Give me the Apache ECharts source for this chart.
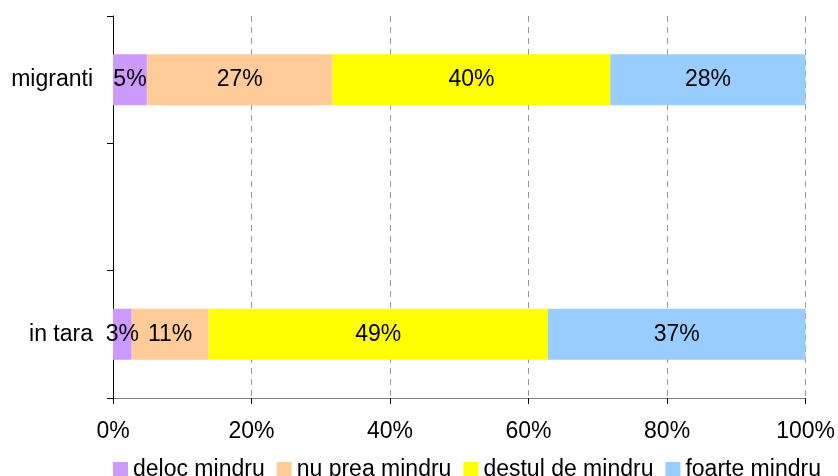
<!DOCTYPE html>
<html>
<head>
<meta charset="utf-8">
<script src="https://cdn.jsdelivr.net/npm/echarts@6/dist/echarts.min.js"></script>
<style>
  html, body { margin: 0; padding: 0; background: #fff; }
  #chart { width: 838px; height: 476px; }
</style>
</head>
<body>
<div id="chart"></div>
<script>
// groups, bottom to top (middle slot is empty in the original)
const groups = ['in tara', '', 'migranti']
const seriesNames = ['deloc mindru', 'nu prea mindru', 'destul de mindru', 'foarte mindru']
const colors = ['#CC99FF', '#FFCC99', '#FFFF00', '#99CCFF']

// shares in percent
const delocMindru = [2.7, null, 4.9]
const nuPreaMindru = [11.1, null, 26.8]
const destulDeMindru = [49.0, null, 40.1]
const foarteMindru = [37.2, null, 28.2]

const xTicks = [0, 20, 40, 60, 80, 100]

const font = '"Liberation Sans", Arial, sans-serif'
const chart = echarts.init( document.getElementById( 'chart' ) )

const values = [delocMindru, nuPreaMindru, destulDeMindru, foarteMindru]

chart.setOption( {
  animation : false,
  textStyle : { fontFamily : font },
  grid : {
    left : 113,
    right : 31,
    top : 16,
    bottom : 78
  },
  legend : {
    data : seriesNames,
    top : 458,
    left : 113,
    padding : 0,
    itemWidth : 15,
    itemHeight : 15,
    itemGap : 12,
    icon : 'rect',
    textStyle : { fontFamily : font, fontSize : 23, color : '#000' }
  },
  xAxis : {
    type : 'value',
    min : 0,
    max : 100,
    interval : 20,
    axisLine : { show : true, lineStyle : { color : '#808080', width : 1 } },
    axisTick : { show : true, length : 6, lineStyle : { color : '#000' } },
    axisLabel : {
      fontFamily : font,
      fontSize : 23,
      color : '#000',
      margin : 22,
      formatter : v => xTicks.includes( v ) ? v + '%' : ''
    },
    splitLine : { show : true, lineStyle : { color : '#999', type : [6, 5] } }
  },
  yAxis : {
    type : 'category',
    data : groups,
    axisLine : { show : true, lineStyle : { color : '#000', width : 1 } },
    axisTick : { show : true, length : 6, lineStyle : { color : '#000' } },
    axisLabel : { fontFamily : font, fontSize : 23, color : '#000', margin : 20 },
    splitLine : { show : false }
  },
  series : seriesNames.map( ( name, i ) => ( {
    name,
    type : 'bar',
    stack : 'total',
    barWidth : '40%',
    data : values[i],
    itemStyle : { color : colors[i] },
    label : {
      show : true,
      position : 'inside',
      fontFamily : font,
      fontSize : 23,
      color : '#000',
      formatter : p => Math.round( p.value ) + '%'
    }
  } ) )
} )
</script>
</body>
</html>
